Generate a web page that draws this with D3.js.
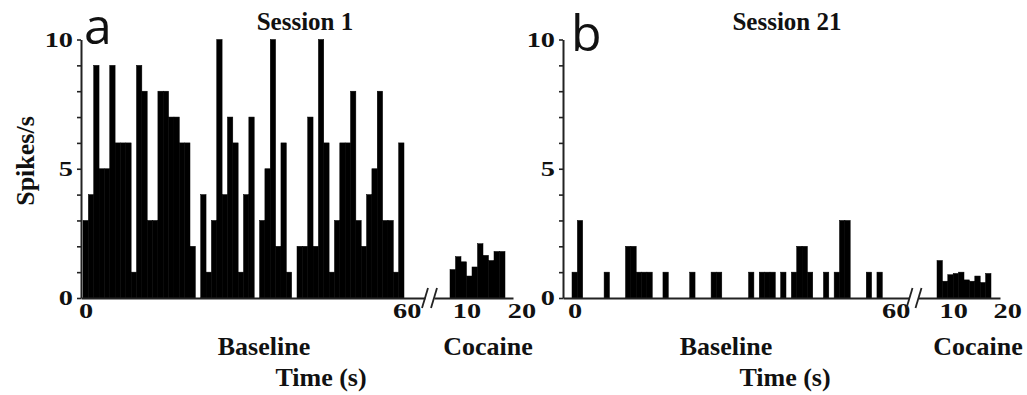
<!DOCTYPE html>
<html>
<head>
<meta charset="utf-8">
<script src="https://cdn.jsdelivr.net/npm/d3@7"></script>
<style>
  body { margin: 0; background: #fff; }
  svg text { font-family: "Liberation Serif", "Times New Roman", serif; font-weight: bold; fill: #111; }
  .letter { font-family: "Open Sans", "DejaVu Sans", sans-serif; font-weight: normal; }
</style>
</head>
<body>
<svg id="chart" width="1027" height="395"></svg>
<script>
// firing rate (spikes/s) per 1 s bin
const session1Baseline = [3,4,9,5,5,9,6,6,6,1, 9,8,3,3,8,8,7,7,6,6, 2,0,4,1,3,10,4,7,6,1,
                          4,7,0,3,5,10,2,6,1,0, 2,2,7,2,10,6,1,3,6,6, 8,3,2,4,5,8,3,3,1,6];
const session1Cocaine = [1.1, 1.6, 1.4, 0.85, 1.2, 2.1, 1.65, 1.45, 1.8, 1.8];
const session21Baseline = [1,3,0,0,0,0,1,0,0,0, 2,2,1,1,1,0,0,1,0,0, 0,0,1,0,0,0,1,1,0,0,
                           0,0,0,1,0,1,1,1,0,1, 0,1,2,2,1,0,0,1,0,1, 3,3,0,0,0,1,0,1,0,0];
const session21Cocaine = [1.45, 0.65, 0.9, 0.95, 1.0, 0.7, 0.65, 0.85, 0.6, 0.95];

const baselineSec = d3.range(0, 60);   // bin centres
const cocaineSec = d3.range(7, 17);    // bin starts
const yTicks = d3.range(0, 11);
const yLabels = [0, 5, 10];
const baselineTicks = [0, 60];
const cocaineTicks = [10, 20];

const panels = [
    { letter: "a", title: "Session 1", base: session1Baseline, coc: session1Cocaine,
      yAxisX: 81, barStart: 83, barEnd: 404, breakX: 429.5, cocStart: 450, cocEnd: 505, axisEnd: 513,
      letterX: 84, letterY: 44, titleX: 305, baseLabelX: 264, cocLabelX: 488, timeLabelX: 321, yTitle: true },
    { letter: "b", title: "Session 21", base: session21Baseline, coc: session21Cocaine,
      yAxisX: 563, barStart: 572, barEnd: 893, breakX: 914, cocStart: 937, cocEnd: 991, axisEnd: 1000,
      letterX: 571, letterY: 51, titleX: 787, baseLabelX: 726, cocLabelX: 978, timeLabelX: 785, yTitle: false }
];

const svg = d3.select("#chart");
const axisColor = "#222";
const stretch = 1.35;   // tick digits are wide in the original
const y = d3.scaleLinear([0, 10], [298, 39.5]);

function styleAxis(g) {
    g.select(".domain").attr("stroke", axisColor).attr("stroke-width", 2);
    g.selectAll(".tick line").attr("stroke", axisColor).attr("stroke-width", 1.6);
    g.selectAll(".tick text").attr("font-size", 21).attr("fill", "#111")
        .style("font-family", '"Liberation Serif", serif').style("font-weight", "bold");
}

panels.forEach(p => {
    const g = svg.append("g");
    const x = d3.scaleLinear([-0.5, 59.5], [p.barStart, p.barEnd]);
    const xc = d3.scaleLinear([7, 17], [p.cocStart, p.cocEnd]);

    // baseline bars
    g.append("g").selectAll("rect")
        .data(p.base.map((v, i) => ({ t: baselineSec[i], v })).filter(d => d.v > 0))
        .join("rect")
        .attr("x", d => x(d.t - 0.5))
        .attr("width", d => x(d.t + 0.5) - x(d.t - 0.5))
        .attr("y", d => y(d.v))
        .attr("height", d => y(0) - y(d.v))
        .attr("fill", "#000").attr("stroke", "#000").attr("stroke-width", 0.5);

    // cocaine bars
    g.append("g").selectAll("rect")
        .data(p.coc.map((v, i) => ({ t: cocaineSec[i], v })))
        .join("rect")
        .attr("x", d => xc(d.t))
        .attr("width", d => xc(d.t + 1) - xc(d.t))
        .attr("y", d => y(d.v))
        .attr("height", d => y(0) - y(d.v))
        .attr("fill", "#000").attr("stroke", "#000").attr("stroke-width", 0.5);

    // y axis
    const ya = g.append("g")
        .attr("transform", `translate(${p.yAxisX},0)`)
        .call(d3.axisLeft(y).tickValues(yTicks).tickSize(4).tickSizeOuter(0)
            .tickFormat(d => yLabels.includes(d) ? d : ""));
    styleAxis(ya);
    ya.selectAll(".tick text").attr("x", -8 / stretch).attr("transform", `scale(${stretch},1)`);

    // x axis, baseline part
    const mainEnd = p.breakX - 4.5;
    const xAxisScale = d3.scaleLinear([x.invert(p.yAxisX), x.invert(mainEnd)], [p.yAxisX, mainEnd]);
    const xa = g.append("g")
        .attr("transform", `translate(0,${y(0)})`)
        .call(d3.axisBottom(xAxisScale).tickValues(baselineTicks).tickSize(0).tickSizeOuter(0).tickPadding(5));
    styleAxis(xa);
    xa.selectAll(".tick text").attr("transform", `scale(${stretch},1)`);

    // x axis, cocaine part
    const cocBegin = p.breakX + 4.5;
    const xcAxisScale = d3.scaleLinear([xc.invert(cocBegin), xc.invert(p.axisEnd)], [cocBegin, p.axisEnd]);
    const xca = g.append("g")
        .attr("transform", `translate(0,${y(0)})`)
        .call(d3.axisBottom(xcAxisScale).tickValues(cocaineTicks).tickSize(0).tickSizeOuter(0).tickPadding(5));
    styleAxis(xca);
    xca.selectAll(".tick text").attr("transform", `scale(${stretch},1)`);

    // axis break marks
    g.append("g").selectAll("line")
        .data([mainEnd, cocBegin])
        .join("line")
        .attr("x1", d => d - 3).attr("y1", y(0) + 10)
        .attr("x2", d => d + 3).attr("y2", y(0) - 10)
        .attr("stroke", axisColor).attr("stroke-width", 1.8);

    // labels
    g.append("text").attr("class", "letter").attr("x", p.letterX).attr("y", p.letterY)
        .attr("font-size", 50).text(p.letter);
    g.append("text").attr("x", p.titleX).attr("y", 30).attr("text-anchor", "middle")
        .attr("font-size", 25).text(p.title);
    g.append("text").attr("x", p.baseLabelX).attr("y", 355).attr("text-anchor", "middle")
        .attr("font-size", 26).text("Baseline");
    g.append("text").attr("x", p.cocLabelX).attr("y", 355).attr("text-anchor", "middle")
        .attr("font-size", 26).text("Cocaine");
    g.append("text").attr("x", p.timeLabelX).attr("y", 386).attr("text-anchor", "middle")
        .attr("font-size", 26).text("Time (s)");
    if (p.yTitle) {
        g.append("text").attr("transform", "translate(34,161) rotate(-90)")
            .attr("text-anchor", "middle").attr("font-size", 26).text("Spikes/s");
    }
});
</script>
</body>
</html>
